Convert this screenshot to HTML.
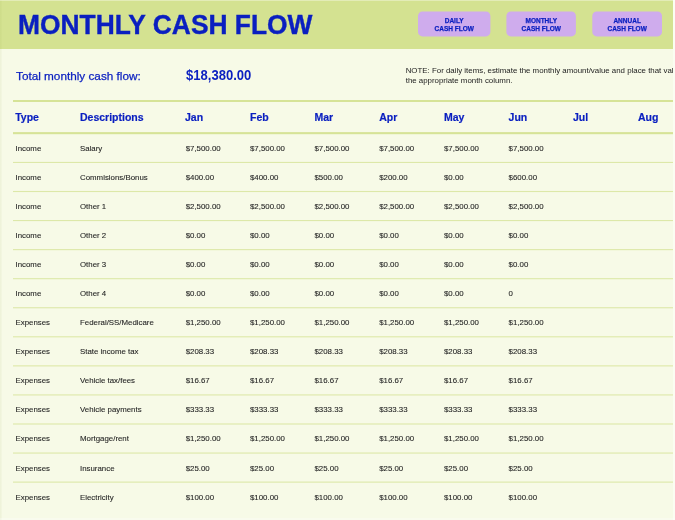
<!DOCTYPE html>
<html><head><meta charset="utf-8"><title>Monthly Cash Flow</title>
<style>
html,body{margin:0;padding:0;}
body{width:675px;height:520px;overflow:hidden;background:#f7fae7;font-family:"Liberation Sans",Arial,sans-serif;position:relative;}
div{position:absolute;white-space:nowrap;}
.band{left:0;top:0;width:675px;height:49px;background:#d4e291;}
.title{left:17.7px;top:10px;font-size:27.2px;font-weight:bold;color:#0a1fc0;line-height:30px;-webkit-text-stroke:0.4px #0a1fc0;transform:scaleX(0.970);transform-origin:0 0;}
.btn{top:12px;height:25px;-webkit-text-stroke:0.25px #0a1fc0;color:#0a1fc0;font-weight:bold;font-size:6.5px;line-height:8.5px;text-align:center;}
.btn span{display:block;padding-top:4.5px;}
.lbl{left:16px;top:68.5px;font-size:11.75px;color:#0a1fc0;-webkit-text-stroke:0.25px #0a1fc0;line-height:14px;}
.tot{left:186px;top:69.1px;font-size:13.05px;font-weight:bold;color:#0a1fc0;line-height:14px;transform:scaleY(1.08);transform-origin:0 85%;}
.note{left:405.7px;top:65.7px;font-size:7.89px;color:#222;line-height:10px;}
.th{top:111.3px;font-size:10.5px;font-weight:bold;color:#0a1fc0;-webkit-text-stroke:0.2px #0a1fc0;line-height:13px;}
.td{font-size:7.87px;color:#262626;-webkit-text-stroke:0.1px #262626;line-height:10px;}
</style></head><body>
<div class="band"></div>
<div id="w" style="left:0;top:0;width:675px;height:520px;">
<div class="title">MONTHLY CASH FLOW</div>
<svg style="position:absolute;left:0;top:0" width="675" height="49" viewBox="0 0 675 49"><rect x="418" y="11.5" width="72.4" height="24.9" rx="4.5" fill="#cfaced"/><rect x="506.4" y="11.5" width="69.5" height="24.9" rx="4.5" fill="#cfaced"/><rect x="592.3" y="11.5" width="69.7" height="24.9" rx="4.5" fill="#cfaced"/></svg>
<div class="btn" style="left:418px;width:72.4px;"><span>DAILY<br>CASH FLOW</span></div>
<div class="btn" style="left:506.5px;width:69.5px;"><span>MONTHLY<br>CASH FLOW</span></div>
<div class="btn" style="left:592.3px;width:69.7px;"><span>ANNUAL<br>CASH FLOW</span></div>
<div class="lbl">Total monthly cash flow:</div>
<div class="tot">$18,380.00</div>
<div class="note">NOTE: For daily items, estimate the monthly amount/value and place that value in<br>the appropriate month column.</div>
<svg style="position:absolute;left:0;top:0" width="675" height="520" viewBox="0 0 675 520"><rect x="13" y="100" width="660" height="2" fill="#d6e397"/><rect x="13" y="132.1" width="660" height="2.1" fill="#d6e397"/><rect x="13" y="161.90" width="660" height="1.1" fill="#dde8a8"/><rect x="13" y="190.96" width="660" height="1.1" fill="#dde8a8"/><rect x="13" y="220.02" width="660" height="1.1" fill="#dde8a8"/><rect x="13" y="249.08" width="660" height="1.1" fill="#dde8a8"/><rect x="13" y="278.14" width="660" height="1.1" fill="#dde8a8"/><rect x="13" y="307.20" width="660" height="1.1" fill="#dde8a8"/><rect x="13" y="336.26" width="660" height="1.1" fill="#dde8a8"/><rect x="13" y="365.32" width="660" height="1.1" fill="#dde8a8"/><rect x="13" y="394.38" width="660" height="1.1" fill="#dde8a8"/><rect x="13" y="423.44" width="660" height="1.1" fill="#dde8a8"/><rect x="13" y="452.50" width="660" height="1.1" fill="#dde8a8"/><rect x="13" y="481.56" width="660" height="1.1" fill="#dde8a8"/></svg>
<div class="th" style="left:15.2px">Type</div>
<div class="th" style="left:80px">Descriptions</div>
<div class="th" style="left:185.0px">Jan</div>
<div class="th" style="left:250px">Feb</div>
<div class="th" style="left:314.5px">Mar</div>
<div class="th" style="left:379.2px">Apr</div>
<div class="th" style="left:444px">May</div>
<div class="th" style="left:508.6px">Jun</div>
<div class="th" style="left:573px">Jul</div>
<div class="th" style="left:638px">Aug</div>
<div class="td" style="left:15.5px;top:144px">Income</div>
<div class="td" style="left:80px;top:144px">Salary</div>
<div class="td" style="left:185.7px;top:144px">$7,500.00</div>
<div class="td" style="left:250px;top:144px">$7,500.00</div>
<div class="td" style="left:314.5px;top:144px">$7,500.00</div>
<div class="td" style="left:379.2px;top:144px">$7,500.00</div>
<div class="td" style="left:444px;top:144px">$7,500.00</div>
<div class="td" style="left:508.6px;top:144px">$7,500.00</div>
<div class="td" style="left:15.5px;top:173px">Income</div>
<div class="td" style="left:80px;top:173px">Commisions/Bonus</div>
<div class="td" style="left:185.7px;top:173px">$400.00</div>
<div class="td" style="left:250px;top:173px">$400.00</div>
<div class="td" style="left:314.5px;top:173px">$500.00</div>
<div class="td" style="left:379.2px;top:173px">$200.00</div>
<div class="td" style="left:444px;top:173px">$0.00</div>
<div class="td" style="left:508.6px;top:173px">$600.00</div>
<div class="td" style="left:15.5px;top:202px">Income</div>
<div class="td" style="left:80px;top:202px">Other 1</div>
<div class="td" style="left:185.7px;top:202px">$2,500.00</div>
<div class="td" style="left:250px;top:202px">$2,500.00</div>
<div class="td" style="left:314.5px;top:202px">$2,500.00</div>
<div class="td" style="left:379.2px;top:202px">$2,500.00</div>
<div class="td" style="left:444px;top:202px">$2,500.00</div>
<div class="td" style="left:508.6px;top:202px">$2,500.00</div>
<div class="td" style="left:15.5px;top:231px">Income</div>
<div class="td" style="left:80px;top:231px">Other 2</div>
<div class="td" style="left:185.7px;top:231px">$0.00</div>
<div class="td" style="left:250px;top:231px">$0.00</div>
<div class="td" style="left:314.5px;top:231px">$0.00</div>
<div class="td" style="left:379.2px;top:231px">$0.00</div>
<div class="td" style="left:444px;top:231px">$0.00</div>
<div class="td" style="left:508.6px;top:231px">$0.00</div>
<div class="td" style="left:15.5px;top:260px">Income</div>
<div class="td" style="left:80px;top:260px">Other 3</div>
<div class="td" style="left:185.7px;top:260px">$0.00</div>
<div class="td" style="left:250px;top:260px">$0.00</div>
<div class="td" style="left:314.5px;top:260px">$0.00</div>
<div class="td" style="left:379.2px;top:260px">$0.00</div>
<div class="td" style="left:444px;top:260px">$0.00</div>
<div class="td" style="left:508.6px;top:260px">$0.00</div>
<div class="td" style="left:15.5px;top:289px">Income</div>
<div class="td" style="left:80px;top:289px">Other 4</div>
<div class="td" style="left:185.7px;top:289px">$0.00</div>
<div class="td" style="left:250px;top:289px">$0.00</div>
<div class="td" style="left:314.5px;top:289px">$0.00</div>
<div class="td" style="left:379.2px;top:289px">$0.00</div>
<div class="td" style="left:444px;top:289px">$0.00</div>
<div class="td" style="left:508.6px;top:289px">0</div>
<div class="td" style="left:15.5px;top:318px">Expenses</div>
<div class="td" style="left:80px;top:318px">Federal/SS/Medicare</div>
<div class="td" style="left:185.7px;top:318px">$1,250.00</div>
<div class="td" style="left:250px;top:318px">$1,250.00</div>
<div class="td" style="left:314.5px;top:318px">$1,250.00</div>
<div class="td" style="left:379.2px;top:318px">$1,250.00</div>
<div class="td" style="left:444px;top:318px">$1,250.00</div>
<div class="td" style="left:508.6px;top:318px">$1,250.00</div>
<div class="td" style="left:15.5px;top:347px">Expenses</div>
<div class="td" style="left:80px;top:347px">State income tax</div>
<div class="td" style="left:185.7px;top:347px">$208.33</div>
<div class="td" style="left:250px;top:347px">$208.33</div>
<div class="td" style="left:314.5px;top:347px">$208.33</div>
<div class="td" style="left:379.2px;top:347px">$208.33</div>
<div class="td" style="left:444px;top:347px">$208.33</div>
<div class="td" style="left:508.6px;top:347px">$208.33</div>
<div class="td" style="left:15.5px;top:376px">Expenses</div>
<div class="td" style="left:80px;top:376px">Vehicle tax/fees</div>
<div class="td" style="left:185.7px;top:376px">$16.67</div>
<div class="td" style="left:250px;top:376px">$16.67</div>
<div class="td" style="left:314.5px;top:376px">$16.67</div>
<div class="td" style="left:379.2px;top:376px">$16.67</div>
<div class="td" style="left:444px;top:376px">$16.67</div>
<div class="td" style="left:508.6px;top:376px">$16.67</div>
<div class="td" style="left:15.5px;top:405px">Expenses</div>
<div class="td" style="left:80px;top:405px">Vehicle payments</div>
<div class="td" style="left:185.7px;top:405px">$333.33</div>
<div class="td" style="left:250px;top:405px">$333.33</div>
<div class="td" style="left:314.5px;top:405px">$333.33</div>
<div class="td" style="left:379.2px;top:405px">$333.33</div>
<div class="td" style="left:444px;top:405px">$333.33</div>
<div class="td" style="left:508.6px;top:405px">$333.33</div>
<div class="td" style="left:15.5px;top:434px">Expenses</div>
<div class="td" style="left:80px;top:434px">Mortgage/rent</div>
<div class="td" style="left:185.7px;top:434px">$1,250.00</div>
<div class="td" style="left:250px;top:434px">$1,250.00</div>
<div class="td" style="left:314.5px;top:434px">$1,250.00</div>
<div class="td" style="left:379.2px;top:434px">$1,250.00</div>
<div class="td" style="left:444px;top:434px">$1,250.00</div>
<div class="td" style="left:508.6px;top:434px">$1,250.00</div>
<div class="td" style="left:15.5px;top:464px">Expenses</div>
<div class="td" style="left:80px;top:464px">Insurance</div>
<div class="td" style="left:185.7px;top:464px">$25.00</div>
<div class="td" style="left:250px;top:464px">$25.00</div>
<div class="td" style="left:314.5px;top:464px">$25.00</div>
<div class="td" style="left:379.2px;top:464px">$25.00</div>
<div class="td" style="left:444px;top:464px">$25.00</div>
<div class="td" style="left:508.6px;top:464px">$25.00</div>
<div class="td" style="left:15.5px;top:493px">Expenses</div>
<div class="td" style="left:80px;top:493px">Electricity</div>
<div class="td" style="left:185.7px;top:493px">$100.00</div>
<div class="td" style="left:250px;top:493px">$100.00</div>
<div class="td" style="left:314.5px;top:493px">$100.00</div>
<div class="td" style="left:379.2px;top:493px">$100.00</div>
<div class="td" style="left:444px;top:493px">$100.00</div>
<div class="td" style="left:508.6px;top:493px">$100.00</div>
</div>
<div style="left:0;top:0;width:2px;height:520px;background:linear-gradient(to right,rgba(140,160,60,0.09),rgba(140,160,60,0.03))"></div>
<div style="left:673px;top:0;width:2px;height:520px;background:#fbfdf2"></div>
<div style="left:0;top:0;width:675px;height:1px;background:rgba(255,255,255,0.35)"></div>
<div style="left:0;top:518px;width:675px;height:2px;background:rgba(255,255,255,0.3)"></div>
</body></html>
